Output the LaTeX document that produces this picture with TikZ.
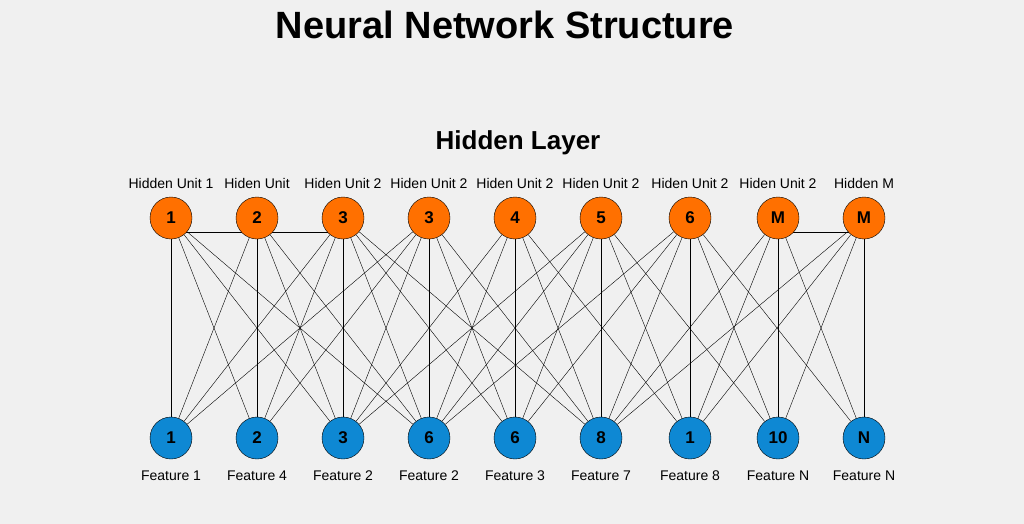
\documentclass[tikz,border=0pt]{standalone}
\usepackage{fontspec}
\setmainfont{Liberation Sans}
\usepackage{tikz}
\usetikzlibrary{backgrounds}

\begin{document}
\begin{tikzpicture}[x=1pt, y=-1pt,
    every node/.style={circle, draw, inner sep=0pt, minimum size=42pt, font=\fontsize{17}{17}\selectfont\bfseries},
    hid/.style={fill=orange!75!red!90!yellow, draw=black},
    inp/.style={fill=cyan!70!blue, draw=black},
    lbl/.style={draw=none, fill=none, rectangle, minimum size=0pt, font=\fontsize{14}{14}\selectfont}]
    \node[lbl, font=\fontsize{38}{38}\selectfont\bfseries] (title) at (505,25) {Neural Network Structure};
    \node[lbl, font=\fontsize{26}{26}\selectfont\bfseries] (layer) at (518,143) {Hidden Layer};
    \foreach \i/\x/\h/\t/\b/\f in {1/171/1/Hidden Unit 1/1/Feature 1, 2/257/2/Hiden Unit/2/Feature 4,
        3/343/3/Hiden Unit 2/3/Feature 2, 4/429/3/Hiden Unit 2/6/Feature 2, 5/515/4/Hiden Unit 2/6/Feature 3,
        6/601/5/Hiden Unit 2/8/Feature 7, 7/690/6/Hiden Unit 2/1/Feature 8, 8/778/M/Hiden Unit 2/10/Feature N,
        9/864/M/Hidden M/N/Feature N} {
        \node[hid] (h\i) at (\x,218) {\h};
        \node[inp] (x\i) at (\x,438) {\b};
        \node[lbl] (ht\i) at (\x,183) {\t};
        \node[lbl] (ft\i) at (\x,476) {\f};
    }
    \begin{scope}[on background layer, line width=0.8pt]
        \fill[gray!12] (0,0) rectangle (1024,524);
        % Edges
        \foreach \i in {1,...,9} {
            \foreach \j in {1,...,9} {
                \pgfmathtruncatemacro{\d}{abs(\i-\j)}
                \ifnum\d<3
                    \draw (h\i) -- (x\j);
                \fi
            }
        }
        \draw (h1) -- (x4) (h3) -- (x6) (h4) -- (x1) (h6) -- (x3) (h7) -- (x4) (h9) -- (x6);
        \draw ([yshift=-14pt]h1.center) -- ([yshift=-14pt]h3.center);
        \draw ([yshift=-14pt]h8.center) -- ([yshift=-14pt]h9.center);
    \end{scope}
\end{tikzpicture}
\end{document}
